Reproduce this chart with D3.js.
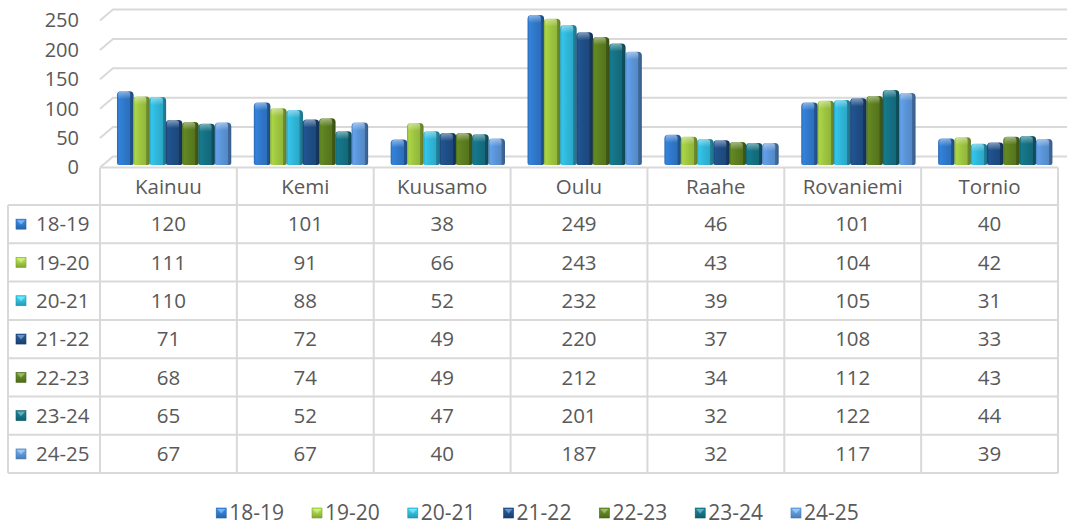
<!DOCTYPE html>
<html>
<head>
<meta charset="utf-8">
<script src="https://cdn.jsdelivr.net/npm/d3@7"></script>
<style>
  html, body { margin: 0; padding: 0; background: #fff; }
  svg { display: block; }
  text { font-family: "Open Sans", "Noto Sans", sans-serif; fill: #595959; }
</style>
</head>
<body>
<svg id="chart" width="1067" height="527"></svg>
<script>
// data
const categories = ["Kainuu", "Kemi", "Kuusamo", "Oulu", "Raahe", "Rovaniemi", "Tornio"];
const seasons = ["18-19", "19-20", "20-21", "21-22", "22-23", "23-24", "24-25"];
const s1819 = [120, 101, 38, 249, 46, 101, 40];
const s1920 = [111, 91, 66, 243, 43, 104, 42];
const s2021 = [110, 88, 52, 232, 39, 105, 31];
const s2122 = [71, 72, 49, 220, 37, 108, 33];
const s2223 = [68, 74, 49, 212, 34, 112, 43];
const s2324 = [65, 52, 47, 201, 32, 122, 44];
const s2425 = [67, 67, 40, 187, 32, 117, 39];
const yTicks = [0, 50, 100, 150, 200, 250];

const seriesValues = [s1819, s1920, s2021, s2122, s2223, s2324, s2425];
const colors = ["#2f77c9", "#9cc43f", "#2fb5d8", "#1e4d85", "#5b7d1f", "#147082", "#5a93d6"];

const width = 1067, height = 527;
const plotLeft = 100, plotRight = 1058;
const tableLeft = 8;
const headerTop = 167.5, rowTop = 205, rowH = 38.3;
const depthX = 13, depthY = -11;
const gridColor = "#d9d9d9";
const fontSize = 20.5;

const svg = d3.select("#chart");
const defs = svg.append("defs");

// gradients for the rounded 3d columns
colors.forEach((c, i) => {
  const base = d3.color(c);
  const g = defs.append("linearGradient").attr("id", "bar" + i)
    .attr("x1", 0).attr("x2", 1).attr("y1", 0).attr("y2", 0);
  [[0, base.darker(0.4)], [0.12, base.brighter(0.25)], [0.45, base], [0.78, base.darker(0.2)],
   [0.8, base.darker(0.9)], [1, base.darker(1.3)]]
    .forEach(([o, col]) => g.append("stop").attr("offset", o).attr("stop-color", col.formatHex()));
  const m = defs.append("linearGradient").attr("id", "mk" + i)
    .attr("x1", 0).attr("x2", 0).attr("y1", 0).attr("y2", 1);
  m.append("stop").attr("offset", 0).attr("stop-color", base.brighter(0.6).formatHex());
  m.append("stop").attr("offset", 1).attr("stop-color", base.darker(0.5).formatHex());
});
const topGlow = defs.append("linearGradient").attr("id", "topGlow")
  .attr("x1", 0).attr("x2", 0).attr("y1", 0).attr("y2", 1);
topGlow.append("stop").attr("offset", 0).attr("stop-color", "#fff").attr("stop-opacity", 0.45);
topGlow.append("stop").attr("offset", 1).attr("stop-color", "#fff").attr("stop-opacity", 0);

// scales
const yFront = d3.scaleLinear().domain([0, 250]).range([167.5, 20.5]);
const yBar = d3.scaleLinear().domain([0, 250]).range([165, 17.5]);
const x0 = d3.scaleBand().domain(categories).range([plotLeft, plotRight]);
const bw = x0.bandwidth();
const x1 = d3.scaleBand().domain(seasons).range([bw * 0.124, bw * 0.957]);

// gridlines on the back wall
svg.append("g")
  .selectAll("path")
  .data(yTicks)
  .join("path")
    .attr("fill", "none")
    .attr("stroke", gridColor)
    .attr("stroke-width", 2)
    .attr("d", d => {
      const y = yFront(d);
      return `M${plotLeft},${y}L${plotLeft + depthX},${y + depthY}L${width + 10},${y + depthY}`;
    });

// y axis labels
const yAxis = svg.append("g")
  .attr("transform", "translate(79,0)")
  .call(d3.axisLeft(yFront).tickValues(yTicks).tickSize(0).tickPadding(0));
yAxis.select(".domain").remove();
yAxis.selectAll("text")
  .attr("font-size", 20)
  .attr("font-family", "'Open Sans', 'Noto Sans', sans-serif")
  .attr("fill", "#595959");

// columns
const bars = [];
categories.forEach((cat, ci) => {
  seasons.forEach((s, si) => {
    bars.push({ cat, si, value: seriesValues[si][ci] });
  });
});

const colPath = (x, w, top, bottom) => {
  const r = 4;
  return `M${x},${bottom - 2}L${x},${top + r}Q${x},${top} ${x + r},${top}` +
         `L${x + w - r},${top}Q${x + w},${top} ${x + w},${top + r}` +
         `L${x + w},${bottom - 2}Q${x + w},${bottom} ${x + w - 2},${bottom}L${x + 2},${bottom}Q${x},${bottom} ${x},${bottom - 2}Z`;
};

const barG = svg.append("g");
barG.selectAll("path.col")
  .data(bars)
  .join("path")
    .attr("class", "col")
    .attr("fill", d => `url(#bar${d.si})`)
    .attr("d", d => colPath(x0(d.cat) + x1(seasons[d.si]), x1.bandwidth() + 0.3, yBar(d.value) - 3, yBar(0)));
barG.selectAll("path.cap")
  .data(bars)
  .join("path")
    .attr("class", "cap")
    .attr("fill", "url(#topGlow)")
    .attr("d", d => colPath(x0(d.cat) + x1(seasons[d.si]) + 1, x1.bandwidth() - 4, yBar(d.value) - 3, yBar(d.value) + 5));

// data table
const table = svg.append("g")
  .attr("stroke", gridColor)
  .attr("stroke-width", 2)
  .attr("fill", "none");
const tableBottom = rowTop + rowH * seasons.length;
table.append("line").attr("x1", plotLeft).attr("x2", plotRight).attr("y1", headerTop).attr("y2", headerTop);
table.selectAll("line.v")
  .data(categories.map(c => x0(c)).concat([plotRight]))
  .join("line")
    .attr("class", "v")
    .attr("x1", d => d).attr("x2", d => d)
    .attr("y1", headerTop).attr("y2", tableBottom);
table.append("line").attr("x1", tableLeft).attr("x2", tableLeft).attr("y1", rowTop).attr("y2", tableBottom);
table.selectAll("line.h")
  .data(d3.range(seasons.length + 1))
  .join("line")
    .attr("class", "h")
    .attr("x1", tableLeft).attr("x2", plotRight)
    .attr("y1", d => rowTop + d * rowH).attr("y2", d => rowTop + d * rowH);

svg.append("g")
  .selectAll("text")
  .data(categories)
  .join("text")
    .attr("x", d => x0(d) + bw / 2)
    .attr("y", (headerTop + rowTop) / 2 + 1)
    .attr("dy", "0.35em")
    .attr("text-anchor", "middle")
    .attr("font-size", fontSize)
    .text(d => d);

const rows = svg.append("g")
  .selectAll("g")
  .data(seasons)
  .join("g")
    .attr("transform", (d, i) => `translate(0,${rowTop + rowH * (i + 0.5)})`);

const marker = (sel, size) => {
  sel.append("rect")
    .attr("width", size).attr("height", size)
    .attr("y", -size / 2)
    .attr("fill", d => `url(#mk${seasons.indexOf(d)})`)
    .attr("stroke", d => d3.color(colors[seasons.indexOf(d)]).darker(0.6).formatHex())
    .attr("stroke-width", 0.6);
  sel.append("path")
    .attr("d", `M1,${-size / 2 + 1}L${size / 2},${0.5}L${size - 1},${-size / 2 + 1}Z`)
    .attr("fill", "#fff")
    .attr("fill-opacity", 0.35);
};

rows.append("g").attr("transform", "translate(16,0)").each(function () { marker(d3.select(this), 10); });
rows.append("text")
  .attr("x", 36)
  .attr("dy", "0.35em")
  .attr("font-size", fontSize)
  .text(d => d);
rows.selectAll("text.val")
  .data((d, i) => categories.map((c, ci) => ({ c, v: seriesValues[i][ci] })))
  .join("text")
    .attr("class", "val")
    .attr("x", d => x0(d.c) + bw / 2)
    .attr("dy", "0.35em")
    .attr("text-anchor", "middle")
    .attr("font-size", fontSize)
    .text(d => d.v);

// legend
const legend = svg.append("g").attr("transform", "translate(0,513)");
const items = legend.selectAll("g")
  .data(seasons)
  .join("g");
items.each(function () { marker(d3.select(this), 10); });
items.append("text")
  .attr("x", 13)
  .attr("dy", "0.35em")
  .attr("font-size", 21)
  .text(d => d);
const widths = [];
items.each(function () { widths.push(this.getBBox().width); });
const gap = 28;
const total = d3.sum(widths) + gap * (widths.length - 1);
let cx = 537.5 - total / 2;
items.attr("transform", (d, i) => {
  const t = `translate(${cx},0)`;
  cx += widths[i] + gap;
  return t;
});
</script>
</body>
</html>
